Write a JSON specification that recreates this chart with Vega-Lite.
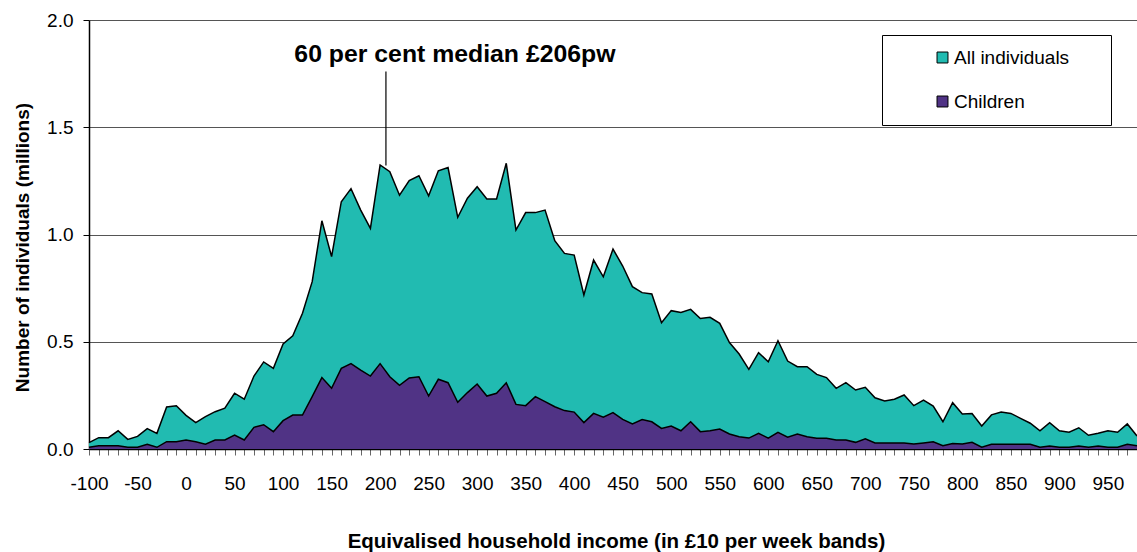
{
  "$schema": "https://vega.github.io/schema/vega-lite/v6.json",
  "autosize": {"type": "none"},
  "padding": {"left": 89, "top": 20, "right": 0, "bottom": 103},
  "width": 1048,
  "height": 429,
  "background": "white",
  "config": {
    "view": {"stroke": null},
    "font": "Liberation Sans",
    "axis": {"labelFont": "Liberation Sans", "titleFont": "Liberation Sans", "labelColor": "black", "titleColor": "black"},
    "legend": {"labelFont": "Liberation Sans"}
  },
  "datasets": {
    "dist": [
      {"band": -100, "all": 0.03, "children": 0.008},
      {"band": -90, "all": 0.053, "children": 0.015},
      {"band": -80, "all": 0.053, "children": 0.015},
      {"band": -70, "all": 0.085, "children": 0.015},
      {"band": -60, "all": 0.045, "children": 0.008},
      {"band": -50, "all": 0.059, "children": 0.008},
      {"band": -40, "all": 0.095, "children": 0.022},
      {"band": -30, "all": 0.073, "children": 0.008},
      {"band": -20, "all": 0.196, "children": 0.034},
      {"band": -10, "all": 0.202, "children": 0.034},
      {"band": 0, "all": 0.157, "children": 0.042},
      {"band": 10, "all": 0.123, "children": 0.034},
      {"band": 20, "all": 0.151, "children": 0.022},
      {"band": 30, "all": 0.174, "children": 0.042},
      {"band": 40, "all": 0.19, "children": 0.042},
      {"band": 50, "all": 0.26, "children": 0.065},
      {"band": 60, "all": 0.232, "children": 0.042},
      {"band": 70, "all": 0.34, "children": 0.101},
      {"band": 80, "all": 0.406, "children": 0.113},
      {"band": 90, "all": 0.376, "children": 0.081},
      {"band": 100, "all": 0.49, "children": 0.132},
      {"band": 110, "all": 0.528, "children": 0.158},
      {"band": 120, "all": 0.633, "children": 0.158},
      {"band": 130, "all": 0.78, "children": 0.244},
      {"band": 140, "all": 1.064, "children": 0.333},
      {"band": 150, "all": 0.897, "children": 0.283},
      {"band": 160, "all": 1.153, "children": 0.376},
      {"band": 170, "all": 1.214, "children": 0.398},
      {"band": 180, "all": 1.114, "children": 0.368},
      {"band": 190, "all": 1.029, "children": 0.34},
      {"band": 200, "all": 1.324, "children": 0.398},
      {"band": 210, "all": 1.293, "children": 0.337},
      {"band": 220, "all": 1.183, "children": 0.297},
      {"band": 230, "all": 1.251, "children": 0.331},
      {"band": 240, "all": 1.274, "children": 0.337},
      {"band": 250, "all": 1.18, "children": 0.247},
      {"band": 260, "all": 1.297, "children": 0.325},
      {"band": 270, "all": 1.312, "children": 0.309},
      {"band": 280, "all": 1.08, "children": 0.218},
      {"band": 290, "all": 1.169, "children": 0.263},
      {"band": 300, "all": 1.223, "children": 0.303},
      {"band": 310, "all": 1.166, "children": 0.247},
      {"band": 320, "all": 1.166, "children": 0.26},
      {"band": 330, "all": 1.332, "children": 0.309},
      {"band": 340, "all": 1.021, "children": 0.208},
      {"band": 350, "all": 1.102, "children": 0.202},
      {"band": 360, "all": 1.102, "children": 0.244},
      {"band": 370, "all": 1.114, "children": 0.221},
      {"band": 380, "all": 0.971, "children": 0.197},
      {"band": 390, "all": 0.912, "children": 0.179},
      {"band": 400, "all": 0.904, "children": 0.172},
      {"band": 410, "all": 0.718, "children": 0.123},
      {"band": 420, "all": 0.881, "children": 0.166},
      {"band": 430, "all": 0.803, "children": 0.148},
      {"band": 440, "all": 0.932, "children": 0.17},
      {"band": 450, "all": 0.853, "children": 0.138},
      {"band": 460, "all": 0.757, "children": 0.117},
      {"band": 470, "all": 0.729, "children": 0.137},
      {"band": 480, "all": 0.723, "children": 0.127},
      {"band": 490, "all": 0.589, "children": 0.096},
      {"band": 500, "all": 0.645, "children": 0.107},
      {"band": 510, "all": 0.637, "children": 0.085},
      {"band": 520, "all": 0.651, "children": 0.127},
      {"band": 530, "all": 0.608, "children": 0.081},
      {"band": 540, "all": 0.614, "children": 0.085},
      {"band": 550, "all": 0.586, "children": 0.093},
      {"band": 560, "all": 0.496, "children": 0.07},
      {"band": 570, "all": 0.443, "children": 0.057},
      {"band": 580, "all": 0.371, "children": 0.051},
      {"band": 590, "all": 0.449, "children": 0.073},
      {"band": 600, "all": 0.407, "children": 0.051},
      {"band": 610, "all": 0.505, "children": 0.078},
      {"band": 620, "all": 0.41, "children": 0.055},
      {"band": 630, "all": 0.384, "children": 0.07},
      {"band": 640, "all": 0.384, "children": 0.057},
      {"band": 650, "all": 0.348, "children": 0.05},
      {"band": 660, "all": 0.333, "children": 0.05},
      {"band": 670, "all": 0.283, "children": 0.042},
      {"band": 680, "all": 0.309, "children": 0.042},
      {"band": 690, "all": 0.275, "children": 0.031},
      {"band": 700, "all": 0.288, "children": 0.048},
      {"band": 710, "all": 0.239, "children": 0.028},
      {"band": 720, "all": 0.224, "children": 0.028},
      {"band": 730, "all": 0.232, "children": 0.028},
      {"band": 740, "all": 0.252, "children": 0.028},
      {"band": 750, "all": 0.202, "children": 0.023},
      {"band": 760, "all": 0.228, "children": 0.028},
      {"band": 770, "all": 0.2, "children": 0.034},
      {"band": 780, "all": 0.127, "children": 0.015},
      {"band": 790, "all": 0.216, "children": 0.026},
      {"band": 800, "all": 0.163, "children": 0.023},
      {"band": 810, "all": 0.165, "children": 0.031},
      {"band": 820, "all": 0.107, "children": 0.008},
      {"band": 830, "all": 0.159, "children": 0.022},
      {"band": 840, "all": 0.172, "children": 0.022},
      {"band": 850, "all": 0.166, "children": 0.022},
      {"band": 860, "all": 0.143, "children": 0.022},
      {"band": 870, "all": 0.12, "children": 0.022},
      {"band": 880, "all": 0.085, "children": 0.008},
      {"band": 890, "all": 0.123, "children": 0.014},
      {"band": 900, "all": 0.085, "children": 0.008},
      {"band": 910, "all": 0.078, "children": 0.008},
      {"band": 920, "all": 0.099, "children": 0.014},
      {"band": 930, "all": 0.064, "children": 0.008},
      {"band": 940, "all": 0.073, "children": 0.014},
      {"band": 950, "all": 0.085, "children": 0.008},
      {"band": 960, "all": 0.078, "children": 0.008},
      {"band": 970, "all": 0.117, "children": 0.022},
      {"band": 980, "all": 0.061, "children": 0.015}
    ],
    "note": [
      {"median": 206, "label": "60 per cent median £206pw"}
    ]
  },
  "data": {"name": "dist"},
  "layer": [
    {
      "mark": {"type": "area", "color": "#21BBB1", "opacity": 1},
      "encoding": {
        "x": {
          "field": "band", "type": "quantitative",
          "scale": {"domain": [-100, 980], "nice": false, "zero": false},
          "axis": {
            "title": "Equivalised household income (in £10 per week bands)",
            "titleFontSize": 20.5, "titleFontWeight": "bold",
            "titleY": 92, "titleX": 527, "titleBaseline": "middle",
            "values": [-100,-90,-80,-70,-60,-50,-40,-30,-20,-10,0,10,20,30,40,50,60,70,80,90,100,110,120,130,140,150,160,170,180,190,200,210,220,230,240,250,260,270,280,290,300,310,320,330,340,350,360,370,380,390,400,410,420,430,440,450,460,470,480,490,500,510,520,530,540,550,560,570,580,590,600,610,620,630,640,650,660,670,680,690,700,710,720,730,740,750,760,770,780,790,800,810,820,830,840,850,860,870,880,890,900,910,920,930,940,950,960,970,980],
            "tickCount": 500,
            "labelExpr": "datum.value % 50 === 0 ? '' + datum.value : ''",
            "labelFontSize": 19, "labelPadding": 19, "labelOverlap": false, "labelFlush": false,
            "tickSize": 6, "tickColor": "#666", "domainColor": "black", "domainWidth": 1.5,
            "grid": false
          }
        },
        "y": {
          "field": "all", "type": "quantitative",
          "scale": {"domain": [0, 2], "nice": false},
          "axis": {
            "title": "Number of individuals (millions)",
            "titleFontSize": 19, "titleFontWeight": "bold",
            "titleX": -67, "titleY": 227, "titleBaseline": "middle",
            "values": [0, 0.5, 1, 1.5, 2], "format": ".1f",
            "labelFontSize": 19, "labelPadding": 10,
            "tickSize": 6, "tickColor": "black", "domainColor": "black", "domainWidth": 1.5,
            "grid": true, "gridColor": "#555", "gridWidth": 1.2
          }
        },
        "color": {
          "datum": "All individuals",
          "type": "nominal",
          "scale": {"domain": ["All individuals", "Children"], "range": ["#21BBB1", "#503385"]},
          "legend": {
            "title": null, "orient": "none", "legendX": 793, "legendY": 15,
            "fillColor": "white", "strokeColor": "black", "padding": 13,
            "symbolType": "square", "symbolSize": 120, "symbolStrokeColor": "black", "symbolStrokeWidth": 1,
            "symbolOpacity": 1, "symbolOffset": 38,
            "labelFontSize": 19, "labelColor": "black", "labelOffset": 2, "rowPadding": 24, "labelLimit": 400,
            "labelExpr": "datum.label + '\u2800\u2800'"
          }
        }
      }
    },
    {
      "mark": {"type": "line", "color": "black", "strokeWidth": 1.5},
      "encoding": {
        "x": {"field": "band", "type": "quantitative"},
        "y": {"field": "all", "type": "quantitative"}
      }
    },
    {
      "mark": {"type": "area", "opacity": 1},
      "encoding": {
        "x": {"field": "band", "type": "quantitative"},
        "y": {"field": "children", "type": "quantitative"},
        "color": {"datum": "Children", "type": "nominal"}
      }
    },
    {
      "mark": {"type": "line", "color": "black", "strokeWidth": 1.5},
      "encoding": {
        "x": {"field": "band", "type": "quantitative"},
        "y": {"field": "children", "type": "quantitative"}
      }
    },
    {
      "data": {"name": "note"},
      "mark": {"type": "rule", "color": "black", "strokeWidth": 1.2},
      "encoding": {
        "x": {"field": "median", "type": "quantitative"},
        "y": {"datum": 1.76},
        "y2": {"datum": 1.322}
      }
    },
    {
      "data": {"name": "note"},
      "mark": {"type": "text", "fontSize": 24.8, "fontWeight": "bold", "align": "center", "baseline": "alphabetic", "dx": 69, "color": "black", "font": "Liberation Sans"},
      "encoding": {
        "x": {"field": "median", "type": "quantitative"},
        "y": {"datum": 1.805},
        "text": {"field": "label"}
      }
    }
  ]
}
